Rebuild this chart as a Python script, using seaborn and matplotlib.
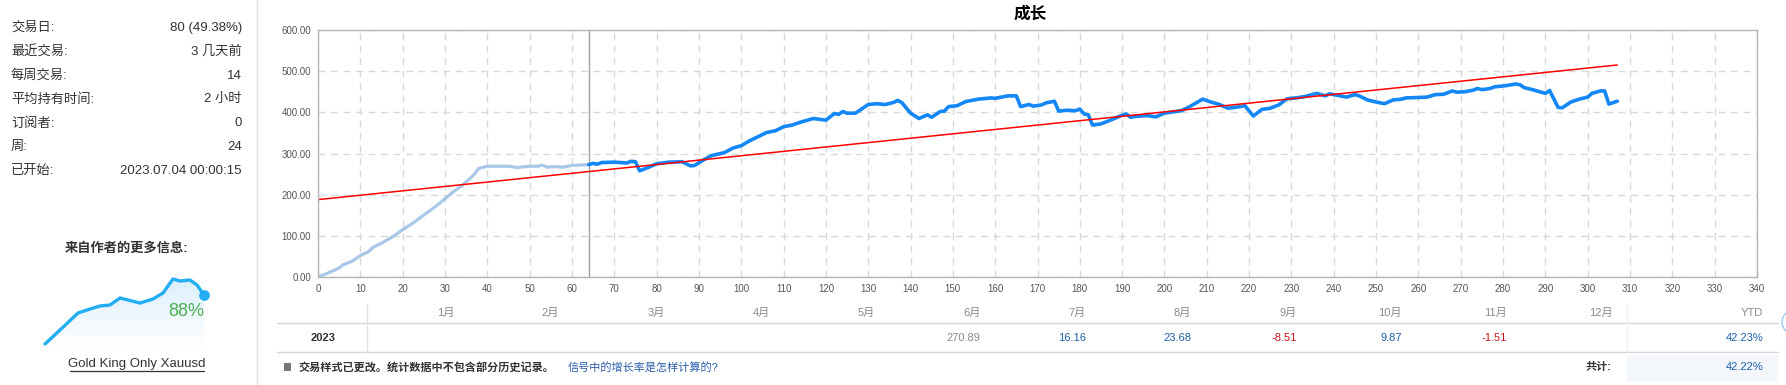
import numpy as np
import pandas as pd
import matplotlib
matplotlib.use('Agg')
import matplotlib.pyplot as plt
import seaborn as sns
from matplotlib.patches import Rectangle, Circle
from matplotlib.colors import LinearSegmentedColormap

# growth curve, light part (history before style change)
light_trade = [0, 2, 4, 5, 6, 8, 10, 12, 13, 15, 16, 18, 20, 22, 24, 26, 28, 30, 32, 34,
               36, 37, 38, 40, 45, 47, 50, 52, 53, 54, 56, 58, 60, 62, 64]
light_growth = [0, 8, 17, 22, 30, 38, 52, 62, 72, 82, 88, 100, 115, 128, 143, 158, 173, 190, 207, 222,
                240, 250, 264, 269, 269, 266, 269, 269, 272, 267, 268, 267, 271, 272, 273]

# growth curve, main part
dark_trade = [64, 65, 66, 67, 70, 73, 74, 75, 76, 78, 80, 83, 86, 88, 89, 91, 93, 96, 98, 100,
              102, 104, 106, 108, 110, 112, 114, 117, 120, 122, 123, 124, 125, 127, 130, 132, 134, 136, 137, 138,
              140, 142, 144, 145, 147, 148, 149, 151, 153, 156, 159, 160, 162, 163, 165, 166, 168, 169, 171, 172,
              174, 175, 177, 179, 180, 181, 182, 183, 185, 187, 190, 191, 192, 193, 196, 198, 200, 204, 206, 207,
              209, 211, 213, 215, 218, 219, 221, 223, 225, 227, 229, 231, 233, 236, 238, 239, 241, 243, 245, 246,
              248, 250, 252, 254, 256, 257, 260, 262, 264, 266, 268, 269, 271, 273, 274, 275, 277, 278, 280, 282,
              283, 284, 285, 287, 290, 291, 293, 294, 296, 298, 300, 301, 303, 304, 305, 307]
dark_growth = [273, 276, 274, 278, 279, 277, 281, 280, 258, 266, 275, 279, 280, 270, 271, 284, 295, 302, 313, 319,
               331, 341, 351, 355, 365, 369, 376, 385, 381, 397, 395, 402, 398, 398, 419, 421, 419, 424, 429, 423,
               398, 385, 394, 388, 402, 403, 414, 416, 426, 432, 435, 434, 438, 440, 440, 414, 419, 415, 418, 423,
               427, 403, 405, 404, 408, 396, 394, 369, 372, 380, 393, 396, 388, 390, 392, 389, 398, 404, 414, 420,
               432, 425, 419, 410, 414, 416, 391, 407, 410, 418, 433, 435, 438, 446, 440, 445, 441, 437, 443, 440,
               430, 425, 421, 430, 432, 435, 436, 437, 443, 444, 452, 449, 450, 454, 458, 455, 458, 462, 464, 467,
               469, 467, 460, 455, 446, 453, 412, 411, 425, 432, 437, 446, 452, 452, 420, 427]

avg_trade = [0, 307]
avg_growth = [188, 515]
style_change_trade = 64

x_ticks = list(range(0, 341, 10))
y_ticks = [0, 100, 200, 300, 400, 500, 600]

stat_labels = ['交易日:', '最近交易:', '每周交易:', '平均持有时间:', '订阅者:', '周:', '已开始:']
stat_values = ['80 (49.38%)', '3 几天前', '14', '2 小时', '0', '24', '2023.07.04 00:00:15']

spark_x = [0, 15, 33, 45, 55, 65, 75, 83, 95, 108, 118, 128, 135, 145, 152, 159]
spark_y = [3, 17, 34, 38, 41, 42, 49, 47, 44, 48, 54, 68, 66, 67, 62, 52]

months = ['1月', '2月', '3月', '4月', '5月', '6月', '7月', '8月', '9月', '10月', '11月', '12月']
monthly = [None, None, None, None, None, 270.89, 16.16, 23.68, -8.51, 9.87, -1.51, None]
year = '2023'
ytd = '42.23%'
total = '42.22%'

BLUE = '#1487f7'
LIGHT = '#a9c7e8'
TXT = '#333333'

sns.set_theme(style='white')
plt.rcParams['font.family'] = ['Liberation Sans', 'Noto Sans CJK SC', 'DejaVu Sans']

W, H = 1786, 385
fig = plt.figure(figsize=(W / 100, H / 100), dpi=100)


def px_axes(x0, y0, x1, y1):
    return fig.add_axes([x0 / W, 1 - y1 / H, (x1 - x0) / W, (y1 - y0) / H])


bg = px_axes(0, 0, W, H)
bg.set_xlim(0, W)
bg.set_ylim(H, 0)
bg.axis('off')

# ---- main growth chart
ax = px_axes(318, 30, 1757, 277)
sns.lineplot(x=light_trade, y=light_growth, color=LIGHT, lw=2.3, ax=ax, estimator=None)
sns.lineplot(x=dark_trade, y=dark_growth, color=BLUE, lw=2.6, ax=ax, estimator=None,
             solid_joinstyle='round')
sns.lineplot(x=avg_trade, y=avg_growth, color='#ff0000', lw=1.1, ax=ax, estimator=None)
ax.axvline(style_change_trade, color='#a0a0a0', lw=1, zorder=1)
ax.set_xlim(0, 340)
ax.set_ylim(0, 600)
ax.set_xticks(x_ticks)
ax.set_yticks(y_ticks)
ax.set_yticklabels([f'{v:.2f}' for v in y_ticks])
ax.tick_params(length=0, labelsize=7, labelcolor='#555555', pad=5)
ax.grid(True, ls=(0, (5, 4)), color='#d9d9d9', lw=1)
ax.set_axisbelow(True)
for s in ax.spines.values():
    s.set_color('#b4b4b4')
    s.set_linewidth(1)
ax.set_xlabel('')
ax.set_ylabel('')

bg.text(1030, 14, '成长', ha='center', va='center', fontsize=12, fontweight='bold', color='black')
bg.text(325, 41, '成长, %', ha='left', va='center', fontsize=7, color='#3a7fd5')
bg.text(325, 55, '平均', ha='left', va='center', fontsize=7, color='#e00000')
bg.text(1752, 268, '交易', ha='right', va='center', fontsize=7, color='#555555')

# ---- left panel
bg.plot([257, 257], [0, H], color='#e3e3e3', lw=1)
for i, (lab, val) in enumerate(zip(stat_labels, stat_values)):
    y = 28 + i * 23.8
    bg.text(11, y, lab, ha='left', va='center', fontsize=9.5, color=TXT)
    bg.text(242, y, val, ha='right', va='center', fontsize=9.5, color=TXT)

bg.text(127, 249, '来自作者的更多信息:', ha='center', va='center', fontsize=9.5,
        fontweight='bold', color=TXT)

sp = px_axes(45, 279, 204, 347)
sp.set_xlim(0, 159)
sp.set_ylim(0, 68)
sp.axis('off')
poly = sp.fill_between(spark_x, spark_y, 0, facecolor='none', edgecolor='none')
grad = np.linspace(0, 1, 100).reshape(-1, 1)
img = sp.imshow(grad, extent=[0, 159, 0, 68], origin='lower', aspect='auto',
                cmap=LinearSegmentedColormap.from_list('g', ['#ffffff', '#dceffd']))
img.set_clip_path(poly.get_paths()[0], transform=sp.transData)
sns.lineplot(x=spark_x, y=spark_y, color='#22aef0', lw=2.4, ax=sp, estimator=None, clip_on=False)
sp.scatter([spark_x[-1]], [spark_y[-1]], s=45, color='#22aef0', zorder=5, clip_on=False)
sp.set_xlim(0, 159)
sp.set_ylim(0, 68)
sp.text(204, 311, '88%', transform=bg.transData, ha='right', va='center', fontsize=13,
        color='#4caf50', zorder=10, clip_on=False)

bg.text(137, 364, 'Gold King Only Xauusd', ha='center', va='center', fontsize=9.5, color=TXT)
bg.plot([70, 204], [371, 371], color=TXT, lw=0.9)

# ---- monthly table
bg.add_patch(Rectangle((1627, 355), 151, 27, color='#f3f6fb', lw=0))
bg.plot([277, 1778], [323, 323], color='#d6d6d6', lw=1)
bg.plot([277, 1778], [352, 352], color='#d6d6d6', lw=1)
bg.plot([367, 367], [304, 352], color='#e2e2e2', lw=1)
bg.plot([1627, 1627], [304, 352], color='#f0f0f0', lw=1)

for i, (m, v) in enumerate(zip(months, monthly)):
    xr = 454 + 105.3 * i
    bg.text(xr, 313, m, ha='right', va='center', fontsize=8, color='#8a8a8a')
    if v is not None:
        if i == 5:
            c = '#8a8a8a'
        elif v < 0:
            c = '#c8161d'
        else:
            c = '#1f5fa6'
        bg.text(xr, 338, f'{v:.2f}', ha='right', va='center', fontsize=8, color=c)

bg.text(1763, 313, 'YTD', ha='right', va='center', fontsize=8, color='#8a8a8a')
bg.text(323, 338, year, ha='center', va='center', fontsize=8, fontweight='bold', color=TXT)
bg.text(1763, 338, ytd, ha='right', va='center', fontsize=8, color='#1f5fa6')

bg.add_patch(Rectangle((284, 363), 7, 8, color='#777777', lw=0))
bg.text(299, 367, '交易样式已更改。统计数据中不包含部分历史记录。', ha='left', va='center',
        fontsize=8, fontweight='bold', color=TXT)
bg.text(568, 367, '信号中的增长率是怎样计算的?', ha='left', va='center', fontsize=8, color='#2a5caa')
bg.text(1612, 367, '共计:', ha='right', va='center', fontsize=8, fontweight='bold', color=TXT)
bg.text(1763, 367, total, ha='right', va='center', fontsize=8, color='#1f5fa6')

bg.add_patch(Circle((1794, 322), 12, facecolor='none', edgecolor='#9cc8ee', lw=1, clip_on=True))

fig.savefig('out.png', dpi=100)
